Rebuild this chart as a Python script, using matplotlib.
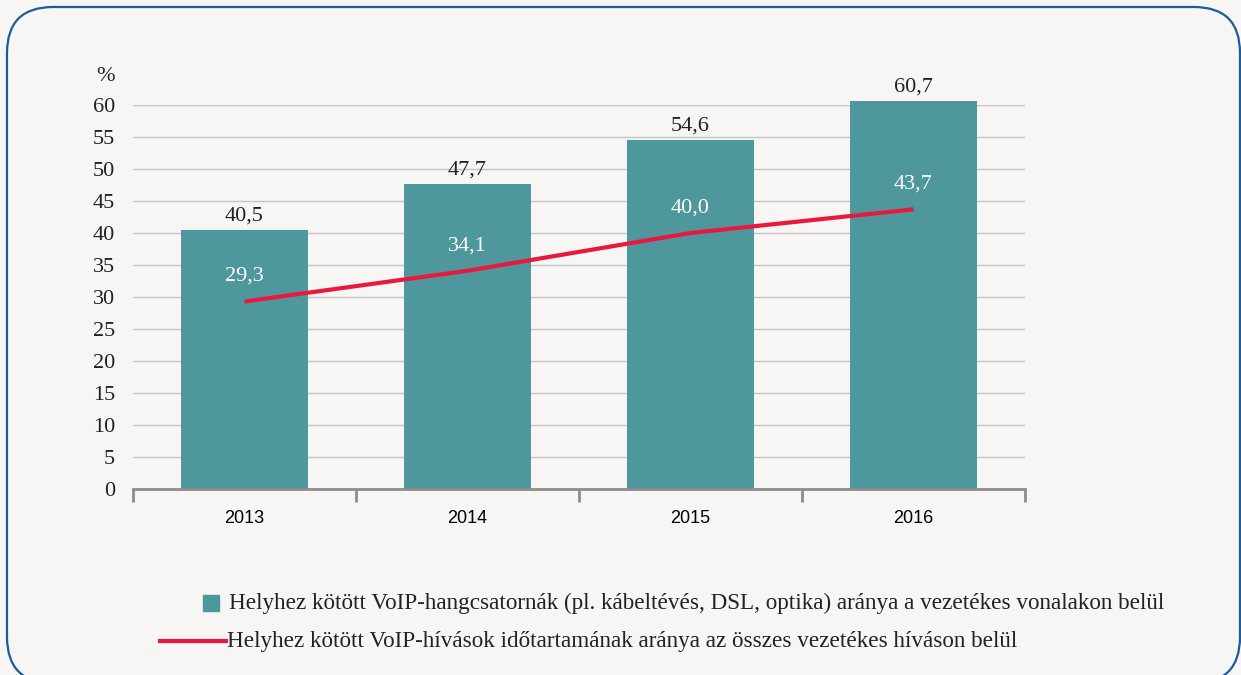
import matplotlib.pyplot as plt
from matplotlib.patches import FancyBboxPatch, Rectangle
from matplotlib.lines import Line2D

# data
years = ['2013', '2014', '2015', '2016']
voip_lines = [40.5, 47.7, 54.6, 60.7]
voip_calls = [29.3, 34.1, 40.0, 43.7]
yticks = list(range(0, 61, 5))
label_bars = 'Helyhez kötött VoIP-hangcsatornák (pl. kábeltévés, DSL, optika) aránya a vezetékes vonalakon belül'
label_line = 'Helyhez kötött VoIP-hívások időtartamának aránya az összes vezetékes híváson belül'

bar_color = '#4e979c'
line_color = '#e8193f'
bg = '#f7f6f4'
serif = ['Liberation Serif', 'DejaVu Serif']
txt = '#222222'
W, H = 1241, 675


def fmt(v):
    return f'{v:.1f}'.replace('.', ',')


def main():
    fig = plt.figure(figsize=(W / 100, H / 100), dpi=100)
    fig.patch.set_facecolor(bg)

    # rounded frame, figure coords, corners kept circular with mutation_aspect
    frame = FancyBboxPatch((7 / W, -8 / H), 1233 / W, 676 / H,
                           boxstyle='round,pad=0,rounding_size=%f' % (46 / W),
                           mutation_aspect=W / H,
                           transform=fig.transFigure, fill=False,
                           edgecolor='#1a5c9e', linewidth=1.6)
    fig.add_artist(frame)

    ax = fig.add_axes([133 / W, 1 - 489 / H, 892 / W, 384 / H])
    ax.set_facecolor(bg)
    x = list(range(len(years)))

    ax.bar(x, voip_lines, width=0.57, color=bar_color, zorder=2, clip_on=False)
    ax.plot(x, voip_calls, color=line_color, lw=3, zorder=3, solid_capstyle='butt')

    for xi, v in zip(x, voip_lines):
        ax.annotate(fmt(v), (xi, v), xytext=(0, 3), textcoords='offset points',
                    ha='center', va='bottom', fontsize=16, family=serif, color=txt,
                    annotation_clip=False)
    for xi, v in zip(x, voip_calls):
        ax.annotate(fmt(v), (xi, v), xytext=(0, 18), textcoords='offset points',
                    ha='center', va='center', fontsize=16, family=serif, color='white',
                    zorder=4, annotation_clip=False)

    ax.set_xlim(-0.5, len(years) - 0.5)
    ax.set_ylim(0, 60)
    ax.set_yticks(yticks)
    ax.set_yticklabels([str(t) for t in yticks], family=serif, fontsize=16, color=txt)
    ax.tick_params(axis='y', length=0, pad=13)
    ax.yaxis.grid(True, color='#c4c4c4', lw=1, zorder=0)
    ax.set_axisbelow(True)

    ax.set_xticks(x)
    ax.set_xticklabels(years, family=['Liberation Sans', 'DejaVu Sans'], fontsize=13)
    ax.tick_params(axis='x', length=0, pad=15)
    ax.set_xticks([i - 0.5 for i in range(len(years) + 1)], minor=True)
    ax.tick_params(axis='x', which='minor', length=9, width=2, color='#8c8c8c', direction='out')

    for s in ['top', 'right', 'left']:
        ax.spines[s].set_visible(False)
    ax.spines['bottom'].set_color('#8c8c8c')
    ax.spines['bottom'].set_linewidth(2)

    ax.text(-0.041, 1.075, '%', transform=ax.transAxes, family=serif, fontsize=16,
            ha='left', va='center', color=txt)

    # legend drawn by hand
    fig.add_artist(Rectangle((203 / W, 1 - 611 / H), 16 / W, 16 / H,
                             transform=fig.transFigure, color=bar_color))
    fig.text(229 / W, 1 - 603 / H, label_bars, family=serif, fontsize=16.7,
             va='center', ha='left', color=txt)
    fig.add_artist(Line2D([160 / W, 226 / W], [1 - 641 / H, 1 - 641 / H],
                          transform=fig.transFigure, color=line_color, lw=3))
    fig.text(227 / W, 1 - 641 / H, label_line, family=serif, fontsize=16.7,
             va='center', ha='left', color=txt)

    fig.savefig('out.png', dpi=100, facecolor=bg)


if __name__ == '__main__':
    main()
